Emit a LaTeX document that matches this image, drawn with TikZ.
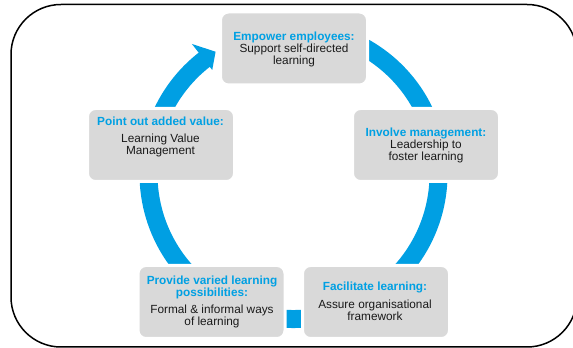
\documentclass[tikz,border=0pt]{standalone}
\usepackage{fontspec}
\setmainfont{Liberation Sans}
\usetikzlibrary{calc}
\definecolor{ringblue}{RGB}{0,159,227}
\definecolor{titleblue}{RGB}{0,160,227}
\definecolor{boxgray}{RGB}{217,217,217}
\definecolor{bodytext}{RGB}{26,26,26}
\newcommand\boxtitle[1]{\textcolor{titleblue}{\bfseries #1}}
\begin{document}
\begin{tikzpicture}[x=1pt,y=1pt,
  stepbox/.style={rectangle, rounded corners=8pt, fill=boxgray, draw=white, line width=3pt, inner sep=0pt, minimum width=147pt, minimum height=73pt},
  boxtext/.style={align=center, inner sep=0pt, font=\fontsize{11.8}{12}\selectfont, text=bodytext},
  frame/.style={line width=1.5pt, rounded corners=50pt}
]
\useasboundingbox (0,0) rectangle (573,348);
\draw[frame] (11,1) rectangle (577,343.5);
\coordinate (c) at (293.5,174);
\draw[ringblue, line width=18pt] ($(c)+(100:145)$) arc[start angle=100, end angle=-232.5, radius=145];
\fill[ringblue] ($(c)+(128:132)$) -- ($(c)+(128:165)$) -- ($(c)+(122.5:145)$) -- cycle;
\node[stepbox] (b1) at (294,299.5) {};
\node[stepbox] (b2) at (426,203) {};
\node[stepbox] (b3) at (161,203) {};
\node[stepbox] (b4) at (211.5,46) {};
\node[stepbox] (b5) at (376,46) {};
\node[boxtext] (t1) at (294,299) {\boxtitle{Empower employees:}\\Support self-directed\\learning};
\node[boxtext] (t2) at (426,203) {\boxtitle{Involve management:}\\Leadership to\\foster learning};
\node[boxtext] (t3) at (160.5,211.5) {\boxtitle{Point out added value:}\\[5pt]Learning Value\\Management};
\node[boxtext] (t4) at (212,46.5) {\boxtitle{Provide varied learning}\\\boxtitle{possibilities:}\\[5pt]Formal \& informal ways\\of learning};
\node[boxtext] (t5) at (375,46.5) {\boxtitle{Facilitate learning:}\\[6pt]Assure organisational\\framework};
\end{tikzpicture}
\end{document}
